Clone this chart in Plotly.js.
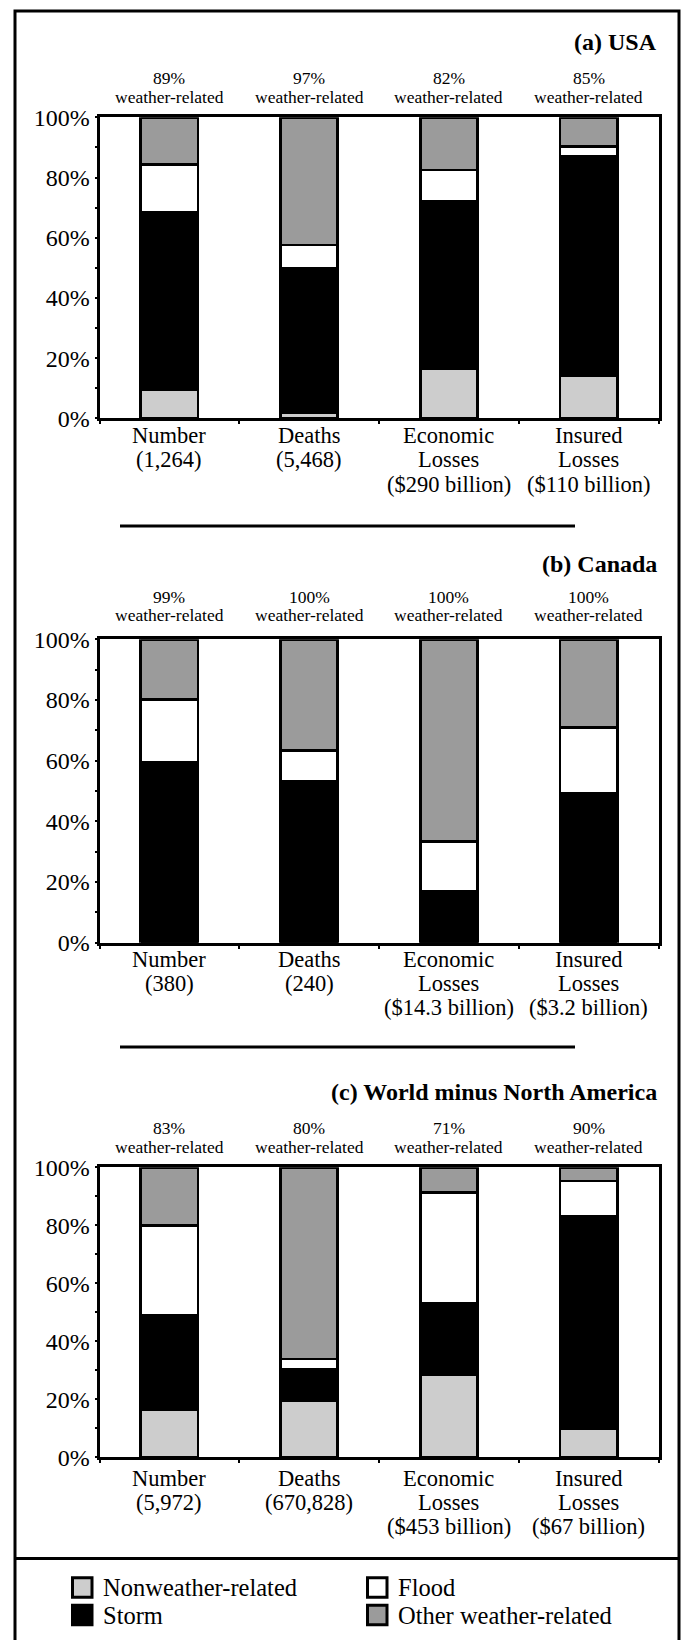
<!DOCTYPE html>
<html>
<head>
<meta charset="utf-8">
<script src="https://cdn.plot.ly/plotly-3.0.1.min.js"></script>
<style>
  html, body { margin: 0; padding: 0; background: #ffffff; }
  #chart { width: 683px; height: 1640px; }
</style>
</head>
<body>
<div id="chart"></div>
<script>
// ---------------- DATA ----------------
const categories = ['Number', 'Deaths', 'Economic Losses', 'Insured Losses'];

const seriesNames = ['Nonweather-related', 'Storm', 'Flood', 'Other weather-related'];

// (a) USA
const usaLabels = [['Number', '(1,264)'], ['Deaths', '(5,468)'], ['Economic', 'Losses', '($290 billion)'], ['Insured', 'Losses', '($110 billion)']];
const usaWeatherPct = [89, 97, 82, 85];
const usaNonweather = [9.6, 2.0, 16.6, 14.2];
const usaStorm = [58.7, 47.8, 55.6, 72.7];
const usaFlood = [15.9, 7.8, 10.3, 3.4];
const usaOther = [15.8, 42.4, 17.5, 9.7];

// (b) Canada
const canadaLabels = [['Number', '(380)'], ['Deaths', '(240)'], ['Economic', 'Losses', '($14.3 billion)'], ['Insured', 'Losses', '($3.2 billion)']];
const canadaWeatherPct = [99, 100, 100, 100];
const canadaNonweather = [0, 0, 0, 0];
const canadaStorm = [59.3, 53.2, 16.8, 49.2];
const canadaFlood = [20.9, 10.1, 16.5, 21.8];
const canadaOther = [19.8, 36.7, 66.7, 29.0];

// (c) World minus North America
const worldLabels = [['Number', '(5,972)'], ['Deaths', '(670,828)'], ['Economic', 'Losses', '($453 billion)'], ['Insured', 'Losses', '($67 billion)']];
const worldWeatherPct = [83, 80, 71, 90];
const worldNonweather = [16.3, 19.5, 28.5, 9.9];
const worldStorm = [32.6, 10.8, 24.6, 73.1];
const worldFlood = [31.0, 3.6, 38.2, 12.3];
const worldOther = [20.1, 66.1, 8.7, 4.7];

const yTickVals = [0, 20, 40, 60, 80, 100];

// ---------------- STYLE / LAYOUT ----------------
const W = 683, H = 1640;
const fx = px => px / W;
const fy = px => 1 - px / H;
const FONT = 'Liberation Serif, Times New Roman, serif';
const seriesColors = ['#cdcdcd', '#000000', '#ffffff', '#9b9b9b'];

const panels = [
  { title: '(a) USA', titleY: 41.7, top: 117.3, bottom: 418.3, pctY: [77.7, 96.7], labY: [435.7, 459.5, 484.3],
    labels: usaLabels, pct: usaWeatherPct, series: [usaNonweather, usaStorm, usaFlood, usaOther] },
  { title: '(b) Canada', titleY: 563.5, top: 639.3, bottom: 942.7, pctY: [596.7, 615.3], labY: [960, 983.5, 1007],
    labels: canadaLabels, pct: canadaWeatherPct, series: [canadaNonweather, canadaStorm, canadaFlood, canadaOther] },
  { title: '(c) World minus North America', titleY: 1092.3, top: 1167.3, bottom: 1457.3, pctY: [1128.3, 1146.7], labY: [1478.5, 1502, 1526.7],
    labels: worldLabels, pct: worldWeatherPct, series: [worldNonweather, worldStorm, worldFlood, worldOther] }
];

const plotLeft = 99.5, plotRight = 658.5;

const traces = [];
const annotations = [];
const layout = {
  width: W, height: H,
  margin: { l: 0, r: 0, t: 0, b: 0, pad: 0 },
  paper_bgcolor: '#ffffff',
  plot_bgcolor: '#ffffff',
  barmode: 'stack',
  showlegend: false,
  font: { family: FONT, color: '#000000' },
  shapes: [],
  annotations: annotations
};

panels.forEach((p, i) => {
  const sfx = i === 0 ? '' : String(i + 1);
  const xa = 'x' + sfx, ya = 'y' + sfx;
  p.series.forEach((vals, j) => {
    traces.push({
      type: 'bar', x: categories, y: vals, name: seriesNames[j],
      xaxis: xa, yaxis: ya, width: 0.41,
      marker: { color: seriesColors[j], line: { color: '#000000', width: 2.8 } },
      hoverinfo: 'skip', showlegend: false
    });
  });
  layout['xaxis' + sfx] = {
    domain: [fx(plotLeft), fx(plotRight)],
    anchor: ya, type: 'category', categoryorder: 'array', categoryarray: categories,
    range: [-0.5, 3.5], fixedrange: true,
    showline: true, mirror: true, linecolor: '#000000', linewidth: 3,
    showgrid: false, zeroline: false,
    ticks: 'outside', tickson: 'boundaries', ticklen: 3, tickwidth: 2, tickcolor: '#000000',
    showticklabels: false
  };
  layout['yaxis' + sfx] = {
    domain: [fy(p.bottom), fy(p.top)],
    anchor: xa, range: [0, 100], fixedrange: true,
    showline: true, mirror: true, linecolor: '#000000', linewidth: 3,
    showgrid: false, zeroline: false,
    tickmode: 'array', tickvals: yTickVals, ticktext: yTickVals.map(v => v + '%'),
    ticks: 'outside', ticklen: 2, tickwidth: 2, tickcolor: '#000000',
    minor: { dtick: 10, tick0: 0, ticks: 'outside', ticklen: 2, tickwidth: 2, tickcolor: '#000000' },
    tickfont: { family: FONT, size: 24, color: '#000000' }
  };
  // panel title
  annotations.push({
    xref: 'paper', yref: 'paper', x: fx(658.5), y: fy(p.titleY), xanchor: 'right', yanchor: 'middle',
    text: '<b>' + p.title + '</b>', showarrow: false, font: { family: FONT, size: 24, color: '#000000' }
  });
  // weather-related percentages
  categories.forEach((c, k) => {
    annotations.push({
      xref: xa, yref: 'paper', x: c, y: fy(p.pctY[0]), xanchor: 'center', yanchor: 'middle',
      text: p.pct[k] + '%', showarrow: false, font: { family: FONT, size: 17.5, color: '#000000' }
    });
    annotations.push({
      xref: xa, yref: 'paper', x: c, y: fy(p.pctY[1]), xanchor: 'center', yanchor: 'middle',
      text: 'weather-related', showarrow: false, font: { family: FONT, size: 17.5, color: '#000000' }
    });
    // category labels (one annotation per line)
    p.labels[k].forEach((line, li) => {
      annotations.push({
        xref: xa, yref: 'paper', x: c, y: fy(p.labY[li]), xanchor: 'center', yanchor: 'middle',
        text: line, showarrow: false, font: { family: FONT, size: 22.5, color: '#000000' }
      });
    });
  });
});

// outer frame and separators
layout.shapes.push({ type: 'rect', xref: 'paper', yref: 'paper', x0: fx(15), x1: fx(679), y0: fy(11), y1: fy(1650),
  line: { color: '#000000', width: 3 }, fillcolor: 'rgba(0,0,0,0)' });
[526, 1047].forEach(yy => layout.shapes.push({ type: 'line', xref: 'paper', yref: 'paper',
  x0: fx(120), x1: fx(575), y0: fy(yy), y1: fy(yy), line: { color: '#000000', width: 3 } }));
layout.shapes.push({ type: 'line', xref: 'paper', yref: 'paper', x0: fx(15), x1: fx(679), y0: fy(1558.5), y1: fy(1558.5),
  line: { color: '#000000', width: 3 } });

// legend (manual, 2 columns): row1 Nonweather, Flood; row2 Storm, Other
const legendOrder = [0, 2, 1, 3];
const legendCols = [72.5, 367.5];
const legendRows = [1587.5, 1615];
legendOrder.forEach((sIdx, n) => {
  const col = n % 2, row = Math.floor(n / 2);
  const x0 = legendCols[col], yc = legendRows[row];
  layout.shapes.push({ type: 'rect', xref: 'paper', yref: 'paper',
    x0: fx(x0), x1: fx(x0 + 19.5), y0: fy(yc - 9.8), y1: fy(yc + 9.8),
    fillcolor: seriesColors[sIdx], line: { color: '#000000', width: 3 } });
  annotations.push({ xref: 'paper', yref: 'paper', x: fx(x0 + 28.5), y: fy(yc), xanchor: 'left', yanchor: 'middle',
    text: seriesNames[sIdx], showarrow: false, font: { family: FONT, size: 24.5, color: '#000000' } });
});

Plotly.newPlot('chart', traces, layout, { staticPlot: true, displayModeBar: false });
</script>
</body>
</html>
